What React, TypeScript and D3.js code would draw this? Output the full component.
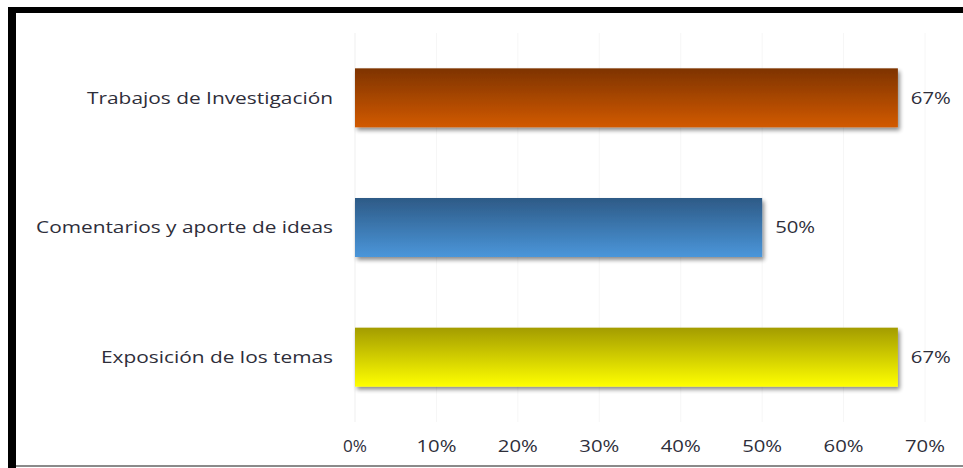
import React from "react";
import * as d3 from "d3";

const categories = ["Trabajos de Investigación", "Comentarios y aporte de ideas", "Exposición de los temas"];
const values = [0.6667, 0.5, 0.6667];
const valueLabels = ["67%", "50%", "67%"];
const tickValues = [0, 0.1, 0.2, 0.3, 0.4, 0.5, 0.6, 0.7];
const gradients = [
  ["#7e3300", "#d25a02"],
  ["#2d5a86", "#4b96da"],
  ["#a39c00", "#ffff00"],
];

const W = 963;
const H = 468;
const labelLen: Record<string, number> = {
  "Trabajos de Investigación": 246,
  "Comentarios y aporte de ideas": 297,
  "Exposición de los temas": 232,
};

export default function App() {
  const x = d3.scaleLinear().domain([0, 0.7]).range([355, 925]);
  const y = d3.scaleBand<string>().domain(categories).range([33, 422]).paddingInner(0.545).paddingOuter(0.2725);
  const fmt = d3.format(".0%");
  const font = "'Open Sans', 'Liberation Sans', sans-serif";
  const txt = "#2e2e3a";
  return (
    <svg width={W} height={H} style={{ position: "absolute", left: 0, top: 0, background: "#fff" }}>
      <defs>
        {gradients.map((g, i) => (
          <linearGradient key={i} id={`g${i}`} x1="0" y1="0" x2="0" y2="1">
            <stop offset="0" stopColor={g[0]} />
            <stop offset="1" stopColor={g[1]} />
          </linearGradient>
        ))}
        <filter id="sh" x="-5%" y="-20%" width="110%" height="150%">
          <feGaussianBlur in="SourceAlpha" stdDeviation="2" />
          <feOffset dx="2" dy="3" result="b" />
          <feComponentTransfer>
            <feFuncA type="linear" slope="0.45" />
          </feComponentTransfer>
          <feMerge>
            <feMergeNode />
            <feMergeNode in="SourceGraphic" />
          </feMerge>
        </filter>
      </defs>
      <rect x={0} y={0} width={W} height={H} fill="#fff" />
      <rect x={8} y={7} width={W - 8} height={6} fill="#000" />
      <rect x={8} y={7} width={8} height={H - 7} fill="#000" />
      <rect x={16} y={465} width={W - 16} height={2} fill="#8a8a8a" />
      {tickValues.map((t) => (
        <line key={t} x1={x(t)} x2={x(t)} y1={33} y2={422} stroke={t === 0 ? "#efefef" : "#f6f6f6"} strokeWidth={1} />
      ))}
      {categories.map((c, i) => (
        <rect key={c} x={x(0)} y={y(c)} width={x(values[i]) - x(0)} height={y.bandwidth()} fill={`url(#g${i})`} filter="url(#sh)" />
      ))}
      {categories.map((c, i) => (
        <text key={c} x={x(values[i]) + 13} y={(y(c) as number) + y.bandwidth() / 2} dy="0.35em" fontFamily={font} fontSize={17} fill={txt} textLength={40} lengthAdjust="spacingAndGlyphs">
          {valueLabels[i]}
        </text>
      ))}
      {categories.map((c) => (
        <text key={c} x={333 - labelLen[c]} y={(y(c) as number) + y.bandwidth() / 2} dy="0.35em" fontFamily={font} fontSize={17} fill={txt} textLength={labelLen[c]} lengthAdjust="spacingAndGlyphs">
          {c}
        </text>
      ))}
      {tickValues.map((t) => {
        const len = t === 0 ? 24 : 40;
        return (
          <text key={t} x={x(t) - len / 2} y={446} dy="0.35em" fontFamily={font} fontSize={17} fill={txt} textLength={len} lengthAdjust="spacingAndGlyphs">
            {fmt(t)}
          </text>
        );
      })}
    </svg>
  );
}
